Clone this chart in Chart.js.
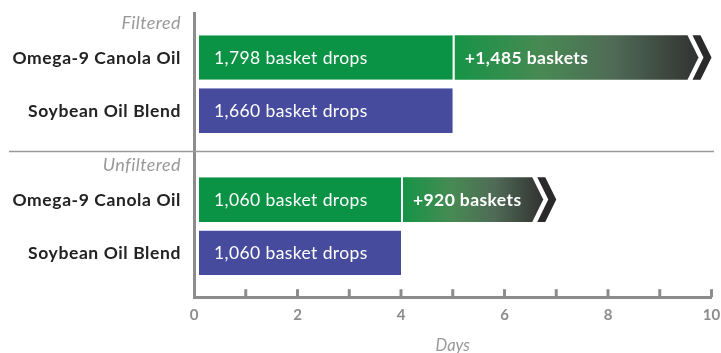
<!DOCTYPE html>
<html>
<head>
<meta charset="utf-8">
<script src="https://cdn.jsdelivr.net/npm/chart.js@4.4.1/dist/chart.umd.min.js"></script>
<style>
  html, body { margin: 0; padding: 0; background: #fff; }
  #wrap { width: 721px; height: 353px; }
</style>
</head>
<body>
<div id="wrap"><canvas id="fryChart" width="721" height="353"></canvas></div>
<script>
// Data
const groups = ['Filtered', 'Unfiltered'];
const series = ['Omega-9 Canola Oil', 'Soybean Oil Blend'];
const canolaDays = [5, 4];
const canolaExtraDays = [5, 3];
const soybeanDays = [5, 4];
const canolaDrops = [1798, 1060];
const soybeanDrops = [1660, 1060];
const canolaExtraBaskets = [1485, 920];
const dayTickLabels = [0, 2, 4, 6, 8, 10];

const GREEN = '#0a9245';
const BLUE = '#464b9e';
const AXIS = '#8c8c8c';
const FONT = 'Lato, "Open Sans", sans-serif';

const fmt = n => n.toLocaleString('en-US');

function setFont(ctx, font, spacing) {
    ctx.font = font;
    if ('letterSpacing' in ctx) ctx.letterSpacing = spacing + 'px';
}

// arrows, bar texts, row labels, separator, inward tick marks
const overlay = {
    id: 'overlay',
    afterDatasetsDraw(chart) {
        const ctx = chart.ctx;
        const baseMeta = chart.getDatasetMeta(0);
        const extraMeta = chart.getDatasetMeta(1);
        const soyMeta = chart.getDatasetMeta(2);
        ctx.save();

        extraMeta.data.forEach((bar, i) => {
            const top = bar.y - bar.height / 2;
            const bot = bar.y + bar.height / 2;
            const mid = bar.y;
            const start = bar.base + 2;
            const end = bar.x;
            const g = ctx.createLinearGradient(start, 0, end - 13, 0);
            g.addColorStop(0, '#169446');
            g.addColorStop(0.35, '#478a53');
            g.addColorStop(0.65, '#4f6b56');
            g.addColorStop(1, '#323232');
            ctx.fillStyle = g;
            ctx.beginPath();
            ctx.moveTo(start, top);
            ctx.lineTo(end - 24, top);
            ctx.lineTo(end - 13, mid);
            ctx.lineTo(end - 24, bot);
            ctx.lineTo(start, bot);
            ctx.closePath();
            ctx.fill();

            ctx.fillStyle = '#2a2a2a';
            ctx.beginPath();
            ctx.moveTo(end - 19, top);
            ctx.lineTo(end - 11, top);
            ctx.lineTo(end, mid);
            ctx.lineTo(end - 11, bot);
            ctx.lineTo(end - 19, bot);
            ctx.lineTo(end - 8, mid);
            ctx.closePath();
            ctx.fill();

            ctx.fillStyle = '#fff';
            setFont(ctx, 'bold 17.5px ' + FONT, 0.4);
            ctx.textAlign = 'left';
            ctx.textBaseline = 'middle';
            ctx.fillText('+' + fmt(canolaExtraBaskets[i]) + ' baskets', start + 10, mid + 1);
        });

        ctx.fillStyle = '#fff';
        setFont(ctx, '17.5px ' + FONT, 0.4);
        ctx.textAlign = 'left';
        ctx.textBaseline = 'middle';
        baseMeta.data.forEach((bar, i) => {
            ctx.fillText(fmt(canolaDrops[i]) + ' basket drops', bar.base + 20, bar.y + 1);
        });
        soyMeta.data.forEach((bar, i) => {
            ctx.fillText(fmt(soybeanDrops[i]) + ' basket drops', bar.base + 20, bar.y + 1);
        });
        ctx.restore();
    },
    afterDraw(chart) {
        const ctx = chart.ctx;
        const area = chart.chartArea;
        const xs = chart.scales.x;
        const ys = chart.scales.y;
        const baseMeta = chart.getDatasetMeta(0);
        const soyMeta = chart.getDatasetMeta(2);
        const labelX = area.left - 13;
        ctx.save();

        // row labels
        ctx.textAlign = 'right';
        ctx.textBaseline = 'middle';
        ctx.fillStyle = '#222';
        setFont(ctx, 'bold 17.5px ' + FONT, 0.6);
        baseMeta.data.forEach(bar => ctx.fillText(series[0], labelX, bar.y + 1));
        soyMeta.data.forEach(bar => ctx.fillText(series[1], labelX, bar.y + 1));

        // group headers
        ctx.fillStyle = '#999';
        setFont(ctx, 'italic 18px ' + FONT, 0.4);
        baseMeta.data.forEach((bar, i) => {
            ctx.fillText(groups[i], labelX, bar.y - bar.height / 2 - 12);
        });

        // separator between groups
        const sepY = Math.round(ys.getPixelForValue(0.5)) - 3.5;
        ctx.strokeStyle = '#9a9a9a';
        ctx.lineWidth = 1.5;
        ctx.beginPath();
        ctx.moveTo(9, sepY);
        ctx.lineTo(714, sepY);
        ctx.stroke();

        // tick marks pointing up into the plot
        ctx.strokeStyle = AXIS;
        ctx.lineWidth = 3;
        xs.ticks.forEach(t => {
            if (t.value === 0) return;
            const px = xs.getPixelForValue(t.value);
            ctx.beginPath();
            ctx.moveTo(px, area.bottom);
            ctx.lineTo(px, area.bottom - 8);
            ctx.stroke();
        });
        ctx.restore();
    }
};

document.addEventListener('DOMContentLoaded', function () {
    const ctx = document.getElementById('fryChart').getContext('2d');
    new Chart(ctx, {
        type: 'bar',
        data: {
            labels: groups,
            datasets: [{
                label: series[0],
                data: canolaDays,
                stack: 'canola',
                backgroundColor: GREEN,
                borderColor: '#fff',
                borderWidth: { left: 5, right: 0, top: 0, bottom: 0 },
                borderSkipped: false
            }, {
                label: series[0] + ' extra',
                data: canolaExtraDays,
                stack: 'canola',
                backgroundColor: 'rgba(0,0,0,0)',
                borderWidth: 0
            }, {
                label: series[1],
                data: soybeanDays,
                stack: 'soybean',
                backgroundColor: BLUE,
                borderColor: '#fff',
                borderWidth: { left: 5, right: 0, top: 0, bottom: 0 },
                borderSkipped: false
            }]
        },
        options: {
            indexAxis: 'y',
            responsive: false,
            animation: false,
            categoryPercentage: 0.748,
            barPercentage: 0.84,
            layout: { padding: { left: 194, right: 0, top: 13, bottom: 0 } },
            scales: {
                x: {
                    type: 'linear',
                    stacked: true,
                    min: 0,
                    max: 10,
                    grid: { display: false, drawTicks: false },
                    border: { display: true, color: AXIS, width: 3, z: 1 },
                    afterFit: scale => { scale.paddingRight = 9.5; },
                    ticks: {
                        stepSize: 1,
                        padding: 9,
                        color: AXIS,
                        font: { family: FONT, size: 15, weight: 'bold' },
                        callback: v => dayTickLabels.includes(v) ? String(v) : ''
                    },
                    title: {
                        display: true,
                        text: 'Days',
                        color: '#999',
                        padding: { top: 3, bottom: -3 },
                        font: { family: FONT, size: 16.5, style: 'italic' }
                    }
                },
                y: {
                    type: 'category',
                    grid: { display: false, drawTicks: false },
                    border: { display: true, color: AXIS, width: 3, z: 1 },
                    ticks: { display: false }
                }
            },
            plugins: {
                legend: { display: false },
                tooltip: { enabled: false }
            }
        },
        plugins: [overlay]
    });
});
</script>
</body>
</html>
